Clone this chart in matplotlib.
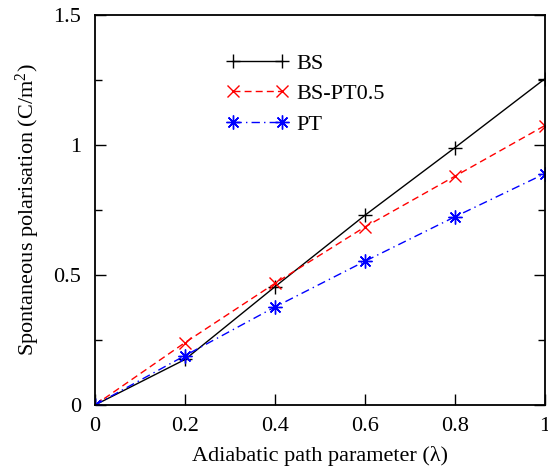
import matplotlib
matplotlib.use("Agg")
import matplotlib.pyplot as plt
from matplotlib.ticker import MultipleLocator

plt.rcParams['font.family'] = ['Liberation Serif', 'DejaVu Serif']
plt.rcParams['mathtext.fontset'] = 'custom'
plt.rcParams['mathtext.rm'] = 'Liberation Serif'
plt.rcParams['mathtext.it'] = 'Liberation Serif:italic'

# adiabatic path parameter
lam = [0.0, 0.2, 0.4, 0.6, 0.8, 1.0]
# spontaneous polarisation (C/m^2)
bs = [0.0, 0.175, 0.455, 0.73, 0.99, 1.255]
bs_pt05 = [0.0, 0.24, 0.468, 0.685, 0.88, 1.075]
pt = [0.0, 0.19, 0.377, 0.553, 0.724, 0.89]

fig = plt.figure(figsize=(5.48, 4.75), dpi=100)
ax = fig.add_axes([0.1734, 0.1474, 0.8211, 0.8210])

ax.plot(lam, bs, color='black', ls='-', lw=1.0, marker='+', ms=10, mew=1.0, label='BS')
ax.plot(lam, bs_pt05, color='red', ls=(0, (5, 3)), lw=1.0, marker='x', ms=8, mew=1.0, label='BS-PT0.5')
ax.plot(lam, pt, color='blue', ls=(0, (6, 3, 1, 3)), lw=1.0, marker=(8, 2, 0), ms=10, mew=1.0, label='PT')

ax.set_xlim(0, 1)
ax.set_ylim(0, 1.5)
ax.yaxis.set_minor_locator(MultipleLocator(0.25))
ax.set_xticks([0, 0.2, 0.4, 0.6, 0.8, 1.0], ['0', '0.2', '0.4', '0.6', '0.8', '1'])
ax.set_yticks([0, 0.5, 1.0, 1.5], ['0', '0.5', '1', '1.5'])
ax.tick_params(axis='both', which='both', direction='in', labelsize=16)
ax.tick_params(axis='y', which='both', right=True)
ax.tick_params(axis='both', which='major', length=8, width=1.0)
ax.tick_params(axis='x', which='major', pad=9)
ax.tick_params(axis='y', which='major', pad=10)
ax.tick_params(axis='y', which='minor', length=5, width=1.0)
for s in ax.spines.values():
    s.set_linewidth(1.3)

ax.set_xlabel('Adiabatic path parameter (λ)', fontsize=16, labelpad=7)
ax.set_ylabel('Spontaneous polarisation (C/m$^2$)', fontsize=16, labelpad=8)

ax.legend(loc='upper left', bbox_to_anchor=(0.273, 0.925), frameon=False, fontsize=16,
          numpoints=2, handlelength=2.8, labelspacing=0.45, handletextpad=0.35,
          borderaxespad=0)

fig.savefig('out.png', dpi=100)
